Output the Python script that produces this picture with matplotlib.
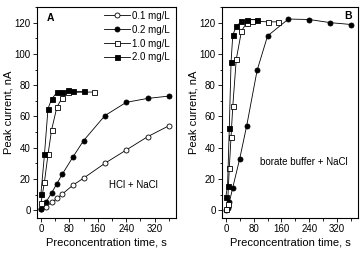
import matplotlib
matplotlib.use("Agg")
import matplotlib.pyplot as plt
from matplotlib.ticker import MultipleLocator

plt.rcParams['font.family'] = ['Liberation Sans', 'DejaVu Sans']

# Panel A (HCl + NaCl)
a_t01 = [0, 15, 30, 45, 60, 90, 120, 180, 240, 300, 360]
a_y01 = [1, 2.2, 5, 7.5, 10.3, 16, 20.5, 30, 38.5, 47, 54]
a_t02 = [0, 15, 30, 45, 60, 90, 120, 180, 240, 300, 360]
a_y02 = [0.7, 5.4, 11, 17, 23, 34, 44.5, 60.5, 69, 71.5, 73]
a_t10 = [0, 10, 20, 30, 45, 60, 75, 150]
a_y10 = [4.3, 18.2, 35.7, 51.3, 66, 72, 75.4, 75.6]
a_t20 = [0, 10, 20, 30, 45, 60, 75, 90, 120]
a_y20 = [10.3, 35.7, 65, 71, 75.4, 75.4, 76.7, 76, 76]

# Panel B (borate buffer + NaCl)
b_t02 = [0, 5, 10, 20, 40, 60, 90, 120, 180, 240, 300, 360]
b_y02 = [0, 1.5, 5, 14.5, 33, 54, 89.5, 111.5, 122.3, 122, 120, 118.8]
b_t10 = [0, 5, 10, 15, 20, 30, 45, 60, 75, 120, 150]
b_y10 = [1, 4, 27, 47, 66.5, 96.5, 114.6, 120, 121, 120.5, 120.5]
b_t20 = [0, 5, 10, 15, 20, 30, 45, 60, 90]
b_y20 = [8.6, 15.6, 52.8, 94.6, 112, 117.6, 120.8, 122, 121.8]

labels = ["0.1 mg/L", "0.2 mg/L", "1.0 mg/L", "2.0 mg/L"]
xticks = [0, 80, 160, 240, 320]
yticks = [0, 20, 40, 60, 80, 100, 120]

fig = plt.figure(figsize=(3.61, 2.56), dpi=100)
axA = fig.add_axes([37/361, 1-218/256, (176-37)/361, (218-7)/256])
axB = fig.add_axes([222/361, 1-218/256, (358-222)/361, (218-7)/256])

lw = 0.6
ms = 3.6
mew = 0.6
styles = {
    '01': dict(marker='o', mfc='white', mec='black'),
    '02': dict(marker='o', mfc='black', mec='black'),
    '10': dict(marker='s', mfc='white', mec='black'),
    '20': dict(marker='s', mfc='black', mec='black'),
}

def plot(ax, t, y, key, label):
    return ax.plot(t, y, color='black', lw=lw, ms=ms, mew=mew, label=label, **styles[key])[0]

h1 = plot(axA, a_t01, a_y01, '01', labels[0])
h2 = plot(axA, a_t02, a_y02, '02', labels[1])
h3 = plot(axA, a_t10, a_y10, '10', labels[2])
h4 = plot(axA, a_t20, a_y20, '20', labels[3])

plot(axB, b_t02, b_y02, '02', labels[1])
plot(axB, b_t10, b_y10, '10', labels[2])
plot(axB, b_t20, b_y20, '20', labels[3])

for ax in (axA, axB):
    ax.set_xlim(-11, 380)
    ax.set_ylim(-5, 130)
    ax.set_xticks(xticks)
    ax.set_yticks(yticks)
    ax.xaxis.set_minor_locator(MultipleLocator(40))
    ax.yaxis.set_minor_locator(MultipleLocator(10))
    ax.tick_params(which='major', direction='out', length=3, width=0.6, labelsize=7, pad=1.5)
    ax.tick_params(which='minor', direction='out', length=1.8, width=0.6)
    for s in ax.spines.values():
        s.set_linewidth(0.8)
    ax.set_xlabel("Preconcentration time, s", fontsize=8, labelpad=2)
    ax.set_ylabel("Peak current, nA", fontsize=8, labelpad=1)

axA.text(0.1, 0.95, "A", transform=axA.transAxes, fontsize=7.5, fontweight='bold', ha='center', va='center')
axB.text(0.93, 0.955, "B", transform=axB.transAxes, fontsize=7.5, fontweight='bold', ha='center', va='center')
axA.text(260, 16, "HCl + NaCl", fontsize=7, ha='center', va='center')
axB.text(225, 31, "borate buffer + NaCl", fontsize=7, ha='center', va='center')

axA.legend(handles=[h1, h2, h3, h4], loc='upper right', bbox_to_anchor=(1.0, 1.01),
           frameon=False, fontsize=7, handlelength=2.6, handletextpad=0.3,
           labelspacing=0.4, borderaxespad=0.2)

fig.savefig("out.png", dpi=100)
